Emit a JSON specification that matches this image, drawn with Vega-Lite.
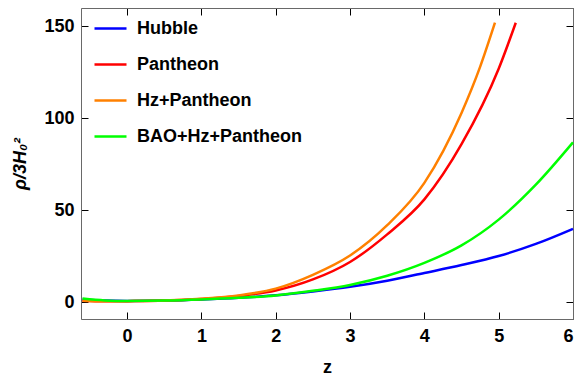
{
  "$schema": "https://vega.github.io/schema/vega-lite/v6.json",
  "width": 492,
  "height": 311,
  "autosize": {"type": "none"},
  "padding": {"left": 81, "top": 8, "right": 7, "bottom": 56},
  "background": "white",
  "data": {"values": [
    {"z": -0.6, "v": 1.6, "s": "Hubble"}, {"z": -0.3, "v": 1.0, "s": "Hubble"}, {"z": 0, "v": 0.8, "s": "Hubble"}, {"z": 0.5, "v": 1.0, "s": "Hubble"}, {"z": 1, "v": 1.6, "s": "Hubble"}, {"z": 1.5, "v": 2.5, "s": "Hubble"}, {"z": 2, "v": 3.9, "s": "Hubble"}, {"z": 2.5, "v": 6.0, "s": "Hubble"}, {"z": 3, "v": 8.5, "s": "Hubble"}, {"z": 3.5, "v": 11.8, "s": "Hubble"}, {"z": 4, "v": 16, "s": "Hubble"}, {"z": 4.5, "v": 20.3, "s": "Hubble"}, {"z": 5, "v": 25.2, "s": "Hubble"}, {"z": 5.5, "v": 31.8, "s": "Hubble"}, {"z": 6, "v": 40, "s": "Hubble"},
    {"z": -0.6, "v": 0.9, "s": "Pantheon"}, {"z": -0.3, "v": 0.6, "s": "Pantheon"}, {"z": 0, "v": 0.7, "s": "Pantheon"}, {"z": 0.5, "v": 1.0, "s": "Pantheon"}, {"z": 1, "v": 1.9, "s": "Pantheon"}, {"z": 1.5, "v": 3.5, "s": "Pantheon"}, {"z": 2, "v": 6.5, "s": "Pantheon"}, {"z": 2.5, "v": 12.5, "s": "Pantheon"}, {"z": 3, "v": 22, "s": "Pantheon"}, {"z": 3.5, "v": 37, "s": "Pantheon"}, {"z": 4, "v": 56, "s": "Pantheon"}, {"z": 4.5, "v": 86, "s": "Pantheon"}, {"z": 5, "v": 127, "s": "Pantheon"}, {"z": 5.23, "v": 152, "s": "Pantheon"},
    {"z": -0.6, "v": 0.9, "s": "Hz+Pantheon"}, {"z": -0.3, "v": 0.6, "s": "Hz+Pantheon"}, {"z": 0, "v": 0.7, "s": "Hz+Pantheon"}, {"z": 0.5, "v": 1.0, "s": "Hz+Pantheon"}, {"z": 1, "v": 2.0, "s": "Hz+Pantheon"}, {"z": 1.5, "v": 3.8, "s": "Hz+Pantheon"}, {"z": 2, "v": 7.5, "s": "Hz+Pantheon"}, {"z": 2.5, "v": 15, "s": "Hz+Pantheon"}, {"z": 3, "v": 25.5, "s": "Hz+Pantheon"}, {"z": 3.5, "v": 42, "s": "Hz+Pantheon"}, {"z": 4, "v": 65, "s": "Hz+Pantheon"}, {"z": 4.5, "v": 103, "s": "Hz+Pantheon"}, {"z": 4.75, "v": 128, "s": "Hz+Pantheon"}, {"z": 4.95, "v": 152, "s": "Hz+Pantheon"},
    {"z": -0.6, "v": 2.1, "s": "BAO+Hz+Pantheon"}, {"z": -0.3, "v": 1.1, "s": "BAO+Hz+Pantheon"}, {"z": 0, "v": 0.8, "s": "BAO+Hz+Pantheon"}, {"z": 0.5, "v": 1.0, "s": "BAO+Hz+Pantheon"}, {"z": 1, "v": 1.6, "s": "BAO+Hz+Pantheon"}, {"z": 1.5, "v": 2.5, "s": "BAO+Hz+Pantheon"}, {"z": 2, "v": 3.8, "s": "BAO+Hz+Pantheon"}, {"z": 2.5, "v": 6.3, "s": "BAO+Hz+Pantheon"}, {"z": 3, "v": 9.5, "s": "BAO+Hz+Pantheon"}, {"z": 3.5, "v": 14.5, "s": "BAO+Hz+Pantheon"}, {"z": 4, "v": 21.5, "s": "BAO+Hz+Pantheon"}, {"z": 4.5, "v": 31, "s": "BAO+Hz+Pantheon"}, {"z": 5, "v": 45, "s": "BAO+Hz+Pantheon"}, {"z": 5.5, "v": 64, "s": "BAO+Hz+Pantheon"}, {"z": 6, "v": 87, "s": "BAO+Hz+Pantheon"}
  ]},
  "layer": [
    {
      "mark": {"type": "line", "interpolate": "monotone", "strokeWidth": 2.5},
      "encoding": {
        "x": {"field": "z", "type": "quantitative", "scale": {"domain": [-0.62, 6], "nice": false, "zero": false},
          "axis": {"orient": "bottom", "gridOpacity": 0, "domainColor": "dimgray", "tickColor": "black", "labelFont": "Liberation Sans", "labelFontSize": 18, "labelFontWeight": "bold", "labelColor": "black", "titleFont": "Liberation Sans", "titleFontSize": 18, "titleFontWeight": "bold", "titleColor": "black", "title": "z", "titlePadding": 13, "values": [0, 1, 2, 3, 4, 5, 6], "tickSize": -7, "labelPadding": 15}},
        "y": {"field": "v", "type": "quantitative", "scale": {"domain": [-9, 160], "nice": false, "zero": false},
          "axis": {"orient": "left", "gridOpacity": 0, "domainColor": "dimgray", "tickColor": "black", "labelFont": "Liberation Sans", "labelFontSize": 18, "labelFontWeight": "bold", "labelColor": "black", "titleFont": "Liberation Sans", "titleFontSize": 18, "titleFontWeight": "bold", "titleColor": "black", "title": "ρ/3H₀²", "titleFontStyle": "italic", "titlePadding": 14, "values": [0, 50, 100, 150], "tickSize": -7, "labelPadding": 14}},
        "color": {"field": "s", "type": "nominal",
          "scale": {"domain": ["Hubble", "Pantheon", "Hz+Pantheon", "BAO+Hz+Pantheon"], "range": ["#0000ff", "#ff0000", "#ff8000", "#00ff00"]},
          "legend": {"title": null, "orient": "none", "legendX": 12, "legendY": 3, "padding": 0, "symbolType": "stroke", "symbolSize": 1024, "symbolStrokeWidth": 2.5, "labelFontSize": 18, "labelFontWeight": "bold", "labelFont": "Liberation Sans", "labelColor": "black", "labelOffset": 9, "labelLimit": 400, "rowPadding": 9}}
      }
    },
    {
      "mark": {"type": "line", "opacity": 0},
      "encoding": {
        "x": {"field": "z", "type": "quantitative", "axis": {"orient": "top", "gridOpacity": 0, "domainColor": "dimgray", "tickColor": "black", "title": null, "labels": false, "values": [0, 1, 2, 3, 4, 5, 6], "tickSize": -7}},
        "y": {"field": "v", "type": "quantitative", "axis": {"orient": "right", "gridOpacity": 0, "domainColor": "dimgray", "tickColor": "black", "title": null, "labels": false, "values": [0, 50, 100, 150], "tickSize": -7}}
      }
    }
  ],
  "resolve": {"axis": {"x": "independent", "y": "independent"}}
}
